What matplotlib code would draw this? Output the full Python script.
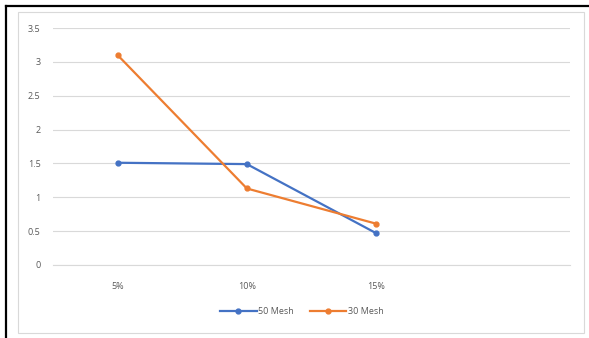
import matplotlib
matplotlib.use("Agg")
import matplotlib.pyplot as plt
from matplotlib.patches import Rectangle
from matplotlib.lines import Line2D

categories = ["5%", "10%", "15%", ""]
mesh50 = [1.51, 1.49, 0.47]
mesh30 = [3.10, 1.13, 0.61]
series_names = ["50 Mesh", "30 Mesh"]
y_ticks = [0, 0.5, 1, 1.5, 2, 2.5, 3, 3.5]
y_labels = ["0", "0.5", "1", "1.5", "2", "2.5", "3", "3.5"]

BLUE = "#4472C4"
ORANGE = "#ED7D31"
TEXT = "#595959"
GRID = "#D9D9D9"

plt.rcParams["font.family"] = ["Open Sans", "DejaVu Sans"]

W, H = 589, 338
fig = plt.figure(figsize=(W / 100, H / 100), dpi=100)
fig.patch.set_facecolor("white")

# outer frame: dark edges on top and left, light chart-area border inside
fig.add_artist(Line2D([5.5 / W, 5.5 / W], [0, 1 - 5.5 / H], transform=fig.transFigure,
                      color="black", lw=1.6))
fig.add_artist(Line2D([5.5 / W, 1], [1 - 5.5 / H, 1 - 5.5 / H], transform=fig.transFigure,
                      color="black", lw=1.6))
fig.add_artist(Rectangle((18 / W, 1 - 333 / H), (584 - 18) / W, (333 - 12) / H,
                         transform=fig.transFigure, fill=False, edgecolor=GRID, lw=0.8))

ax = fig.add_axes([53 / W, 1 - 265 / H, (570 - 53) / W, (265 - 28) / H])
x = list(range(len(categories)))
ax.plot(x[:len(mesh50)], mesh50, color=BLUE, lw=1.6, marker="o", ms=3.5,
        label=series_names[0], zorder=3)
ax.plot(x[:len(mesh30)], mesh30, color=ORANGE, lw=1.6, marker="o", ms=3.5,
        label=series_names[1], zorder=3)

ax.set_xlim(-0.5, len(categories) - 0.5)
ax.set_ylim(0, 3.5)
ax.set_xticks(x)
ax.set_xticklabels(categories)
ax.set_yticks(y_ticks)
ax.set_yticklabels(y_labels)
ax.grid(axis="y", color=GRID, lw=0.8)
ax.set_axisbelow(True)
for s in ["top", "right", "left"]:
    ax.spines[s].set_visible(False)
ax.spines["bottom"].set_color(GRID)
ax.spines["bottom"].set_linewidth(0.8)
ax.tick_params(axis="both", length=0, labelsize=6.5, labelcolor=TEXT)
ax.tick_params(axis="x", pad=12)
ax.tick_params(axis="y", pad=9)

leg = ax.legend(loc="center", bbox_to_anchor=(0.482, 1 - (312 - 28) / (265 - 28)),
                bbox_transform=ax.transAxes, ncol=2, frameon=False, fontsize=6.5,
                handlelength=4.0, columnspacing=1.8, handletextpad=0.2)
for t in leg.get_texts():
    t.set_color(TEXT)

fig.savefig("out.png", dpi=100, facecolor="white")
